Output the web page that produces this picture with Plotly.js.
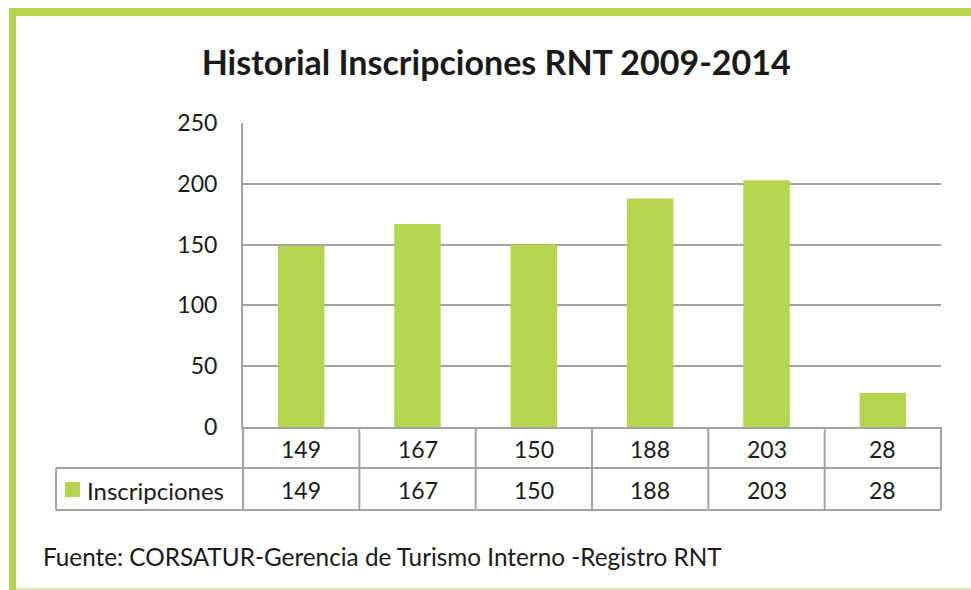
<!DOCTYPE html>
<html>
<head>
<meta charset="utf-8">
<script src="https://cdn.plot.ly/plotly-3.0.1.min.js"></script>
<style>html,body{margin:0;padding:0;background:#fff;}#chart{width:971px;height:590px;}</style>
</head>
<body>
<div id="chart"></div>
<script>
const categories = ['149', '167', '150', '188', '203', '28'];
const seriesName = 'Inscripciones';
const values = [149, 167, 150, 188, 203, 28];
const yTicks = [0, 50, 100, 150, 200, 250];
const titleText = 'Historial Inscripciones RNT 2009-2014';
const sourceText = 'Fuente: CORSATUR-Gerencia de Turismo Interno -Registro RNT';

const W = 971, H = 590;
const M = {l: 243, r: 30, t: 123, b: 163};
const plotW = W - M.l - M.r, plotH = H - M.t - M.b;
const px = p => (p - M.l) / plotW;          // pixel x -> paper x
const py = p => (H - M.b - p) / plotH;      // pixel y -> paper y

const GREEN = '#b5d44f';
const GRID = '#a3a3a3';
const FONT = 'Lato, "Open Sans", sans-serif';
const TXT = '#1a1a1a';

const rowTop = 427, rowMid = 468, rowBot = 510, legLeft = 56;

const shapes = [];
const line = (x0, y0, x1, y1, color, width) => shapes.push({
  type: 'line', xref: 'paper', yref: 'paper', x0, y0, x1, y1,
  line: {color: color || GRID, width: width || 2}, layer: 'above'
});
// table horizontal lines
line(0, py(rowMid), 1, py(rowMid));
line(px(legLeft), py(rowMid), 0, py(rowMid));
line(px(legLeft), py(rowBot), 1, py(rowBot));
// vertical lines
line(px(legLeft), py(rowMid), px(legLeft), py(rowBot));
for (let i = 0; i <= categories.length; i++) {
  const xp = i / categories.length;
  line(xp, py(rowTop), xp, py(rowBot));
}
// legend key
shapes.push({type: 'rect', xref: 'paper', yref: 'paper',
  x0: px(65), x1: px(80), y0: py(497), y1: py(482),
  fillcolor: GREEN, line: {width: 0}});
// green frame
line(px(9), py(12), px(971), py(12), GREEN, 8);
line(px(12.5), py(8), px(12.5), py(590), GREEN, 7);
line(px(16), py(589), px(971), py(589), '#dfeab9', 2);

const annotations = [];
categories.forEach((c, i) => {
  annotations.push({xref: 'x', yref: 'paper', x: i, y: py((rowTop + rowMid) / 2 + 1),
    text: c, showarrow: false, font: {family: FONT, size: 23, color: TXT}, xanchor: 'center', yanchor: 'middle'});
  annotations.push({xref: 'x', yref: 'paper', x: i, y: py((rowMid + rowBot) / 2 + 1),
    text: String(values[i]), showarrow: false, font: {family: FONT, size: 23, color: TXT}, xanchor: 'center', yanchor: 'middle'});
});
annotations.push({xref: 'paper', yref: 'paper', x: px(85), y: py((rowMid + rowBot) / 2 + 1),
  text: seriesName, showarrow: false, font: {family: FONT, size: 24, color: TXT}, xanchor: 'left', yanchor: 'middle'});
annotations.push({xref: 'paper', yref: 'paper', x: px(41), y: py(556),
  text: sourceText, showarrow: false, font: {family: FONT, size: 24.3, color: TXT}, xanchor: 'left', yanchor: 'middle'});

const trace = {
  type: 'bar', x: categories, y: values, name: seriesName,
  marker: {color: GREEN, line: {width: 0}}, hoverinfo: 'skip'
};

const layout = {
  width: W, height: H,
  margin: M,
  paper_bgcolor: '#fff', plot_bgcolor: '#fff',
  showlegend: false,
  bargap: 0.6,
  title: {text: '<b>' + titleText + '</b>', x: 0.511, xanchor: 'center', y: 1 - 63 / H, yanchor: 'middle',
    font: {family: FONT, size: 34, color: TXT}},
  xaxis: {type: 'category', range: [-0.5, categories.length - 0.5], autorange: false,
    showticklabels: false, ticks: '', showgrid: false, zeroline: false,
    showline: true, linecolor: GRID, linewidth: 2, mirror: false},
  yaxis: {range: [0, 250], autorange: false, tickvals: yTicks, ticktext: yTicks.map(String), showgrid: true, gridcolor: GRID, gridwidth: 2,
    zeroline: false, showline: true, linecolor: GRID, linewidth: 2, ticks: '', ticklen: 0,
    tickfont: {family: FONT, size: 23, color: TXT}, ticklabelstandoff: 19},
  shapes, annotations
};

Plotly.newPlot('chart', [trace], layout, {displayModeBar: false, staticPlot: true});
</script>
</body>
</html>
